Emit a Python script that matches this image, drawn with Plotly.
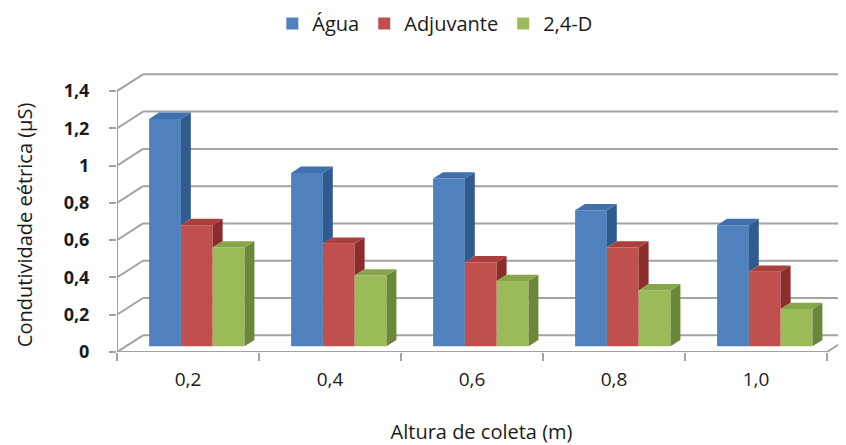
import plotly.graph_objects as go

# ---- data ----
categories = ["0,2", "0,4", "0,6", "0,8", "1,0"]
series_names = ["Água", "Adjuvante", "2,4-D"]
agua = [1.22, 0.93, 0.90, 0.73, 0.65]
adjuvante = [0.65, 0.55, 0.45, 0.53, 0.40]
d24 = [0.53, 0.38, 0.35, 0.30, 0.20]
y_ticks = [0, 0.2, 0.4, 0.6, 0.8, 1.0, 1.2, 1.4]

series_values = [agua, adjuvante, d24]
front_colors = ["#4F81BD", "#C0504D", "#9BBB59"]
top_colors = ["#4170AC", "#A9403D", "#87A64A"]
side_colors = ["#2F5B8F", "#8A2D2B", "#6B8839"]

# ---- pseudo-3D geometry (oblique projection) ----
dX = 0.183      # full depth shift in x (category units)
dY = 0.0896     # full depth shift in y (value units)
f0, f1 = 0.34, 0.72   # bar front / back depth fractions
w = 0.224       # bar width
n = len(categories)
xs = list(range(n))
grid_col = "#A3A3A3"
font_family = "Open Sans, DejaVu Sans, sans-serif"

fig = go.Figure()

# front faces as real bars
for k, (name, vals) in enumerate(zip(series_names, series_values)):
    fig.add_trace(go.Bar(
        x=[x + f0 * dX for x in xs], y=vals, base=f0 * dY,
        offset=-1.5 * w + k * w, width=w,
        name=name, marker=dict(color=front_colors[k], line=dict(width=0)),
        hoverinfo="skip"))

ddX = (f1 - f0) * dX
ddY = (f1 - f0) * dY
for k, vals in enumerate(series_values):
    nxt = series_values[k + 1] if k + 1 < len(series_values) else [0] * n
    sx, sy, tx, ty = [], [], [], []
    for i, x in enumerate(xs):
        xl = x - 1.5 * w + k * w + f0 * dX
        xr = xl + w
        ytop = f0 * dY + vals[i]
        ylow = f0 * dY + max(0, nxt[i])
        tx += [xl, xr, xr + ddX, xl + ddX, xl, None]
        ty += [ytop, ytop, ytop + ddY, ytop + ddY, ytop, None]
        if ylow < ytop:
            sx += [xr, xr, xr + ddX, xr + ddX, xr, None]
            sy += [ylow, ytop, ytop + ddY, ylow + ddY, ylow, None]
    fig.add_trace(go.Scatter(x=sx, y=sy, fill="toself", mode="lines",
                             fillcolor=side_colors[k], line=dict(width=0, color=side_colors[k]),
                             showlegend=False, hoverinfo="skip"))
    fig.add_trace(go.Scatter(x=tx, y=ty, fill="toself", mode="lines",
                             fillcolor=top_colors[k], line=dict(width=0, color=top_colors[k]),
                             showlegend=False, hoverinfo="skip"))

# walls / gridlines
x0 = -0.5
x1 = n - 0.5
shapes = []
for v in y_ticks:
    shapes.append(dict(type="line", xref="x", yref="y", layer="below",
                       x0=x0 + dX, y0=v + dY, x1=x1 + dX, y1=v + dY,
                       line=dict(color=grid_col, width=2)))
    shapes.append(dict(type="line", xref="x", yref="y", layer="below",
                       x0=x0, y0=v, x1=x0 + dX, y1=v + dY,
                       line=dict(color=grid_col, width=2)))
shapes.append(dict(type="line", xref="x", yref="y", layer="below",
                   x0=x0, y0=0, x1=x1, y1=0, line=dict(color=grid_col, width=2)))
shapes.append(dict(type="line", xref="x", yref="y", layer="below",
                   x0=x1, y0=0, x1=x1 + dX, y1=dY, line=dict(color=grid_col, width=2)))
shapes.append(dict(type="line", xref="x", yref="y", layer="below",
                   x0=x0, y0=0, x1=x0, y1=y_ticks[-1], line=dict(color=grid_col, width=2)))

# page body has an 8px default margin; size the figure to fit the window
fig.update_layout(
    width=838, height=437,
    margin=dict(l=109, r=0, t=52, b=93, autoexpand=False),
    paper_bgcolor="white", plot_bgcolor="white",
    separators=",.",
    barmode="overlay",
    shapes=shapes,
    font=dict(family=font_family, color="#1A1A1A"),
    legend=dict(orientation="h", x=0.436, xanchor="center", y=1.125, yanchor="middle",
                font=dict(size=20, family=font_family, color="#1A1A1A"),
                traceorder="normal", itemwidth=30, tracegroupgap=0),
    xaxis=dict(range=[x0, 4.634], tickvals=xs, ticktext=categories, automargin=False,
               ticks="", showgrid=False, zeroline=False, showline=False,
               tickfont=dict(size=19), ticklabelstandoff=14,
               minor=dict(tick0=-0.5, dtick=1, ticks="outside", ticklen=8,
                          tickcolor=grid_col, tickwidth=2, showgrid=False),
               title=dict(text="Altura de coleta (m)", font=dict(size=20), standoff=41)),
    yaxis=dict(range=[0, 292 / 186.4], tickvals=y_ticks, ticks="outside", ticklen=7,
               tickcolor=grid_col, tickwidth=2, showgrid=False, zeroline=False,
               showline=False, automargin=False,
               tickfont=dict(size=18, family="Open Sans, sans-serif", weight="bold"),
               ticklabelstandoff=16),
    annotations=[dict(text="Condutividade eétrica (µS)", textangle=-90,
                      xref="paper", yref="paper", x=-0.126, y=0.435,
                      xanchor="center", yanchor="middle", showarrow=False,
                      font=dict(size=20))],
)

fig.write_html("out.html")
